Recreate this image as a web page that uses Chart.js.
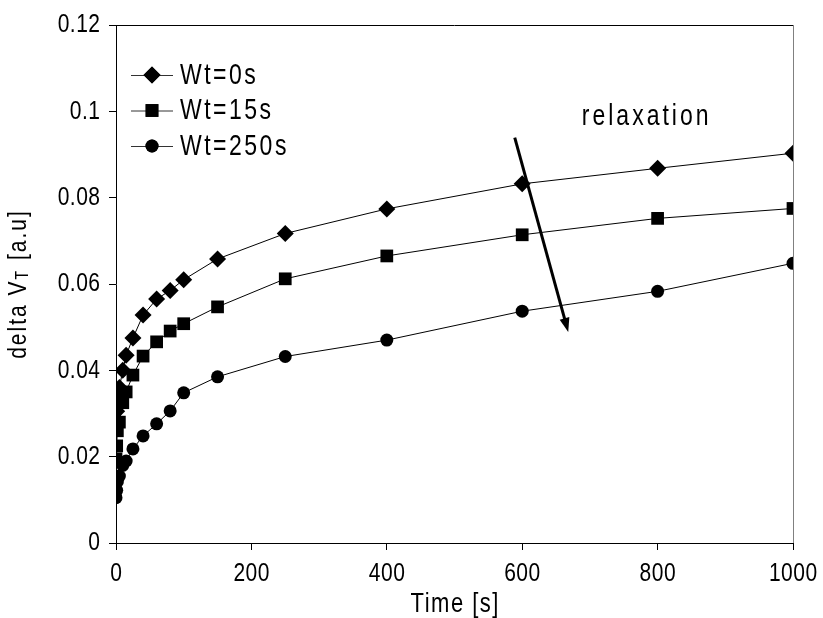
<!DOCTYPE html>
<html>
<head>
<meta charset="utf-8">
<script src="https://cdn.jsdelivr.net/npm/chart.js@4.4.1/dist/chart.umd.min.js"></script>
<style>
  html, body { margin: 0; padding: 0; background: #fff; }
  #wrap { width: 823px; height: 618px; position: relative; }
</style>
</head>
<body>
<div id="wrap"><canvas id="relaxChart" width="823" height="618"></canvas></div>
<script>
const times = [0, 1, 2, 5, 10, 15, 25, 40, 60, 80, 100, 150, 250, 400, 600, 800, 1000];
const wt0 = [0.0275, 0.0305, 0.033, 0.036, 0.040, 0.0435, 0.0475, 0.0528, 0.0565, 0.0585, 0.061, 0.0658, 0.0717, 0.0774, 0.0832, 0.0868, 0.0903];
const wt15 = [0.0195, 0.0225, 0.026, 0.028, 0.0325, 0.035, 0.0389, 0.0433, 0.0466, 0.0491, 0.0508, 0.0547, 0.0612, 0.0665, 0.0714, 0.0752, 0.0775];
const wt250 = [0.0105, 0.0122, 0.0142, 0.0155, 0.018, 0.019, 0.0218, 0.0248, 0.0276, 0.0306, 0.0348, 0.0385, 0.0432, 0.047, 0.0537, 0.0583, 0.0648];
const seriesNames = ['Wt=0s', 'Wt=15s', 'Wt=250s'];
const xTicks = [0, 200, 400, 600, 800, 1000];
const yTicks = [0, 0.02, 0.04, 0.06, 0.08, 0.1, 0.12];

const FONT = '"Liberation Sans", Arial, sans-serif';
const STRETCH = 1.25; // the original text is taller than it is wide

function toPoints(ys) {
    return times.map((t, i) => ({ x: t, y: ys[i] }));
}

function makeSet(label, ys, style, radius) {
    return {
        label: label,
        data: toPoints(ys),
        showLine: true,
        borderColor: '#000',
        borderWidth: 1,
        backgroundColor: '#000',
        pointStyle: style,
        pointRadius: radius,
        pointBorderWidth: 0,
        pointBackgroundColor: '#000',
        tension: 0
    };
}

// text helper: tall narrow glyphs, a bit of letter spacing
function label(c, txt, x, y, size, align, spacing) {
    c.save();
    c.translate(x, y);
    c.scale(1, STRETCH);
    c.font = size + 'px ' + FONT;
    c.letterSpacing = (spacing || 0) + 'px';
    c.textAlign = align;
    c.textBaseline = 'middle';
    c.fillStyle = '#000';
    let dx = 0;
    if (spacing && align === 'center') dx = spacing / 2;
    if (spacing && align === 'right') dx = spacing;
    c.fillText(txt, dx, 0);
    c.restore();
}

// frame, tick labels, legend, annotation and titles drawn by hand
const extras = {
    id: 'extras',
    afterDraw(chart) {
        const c = chart.ctx;
        const a = chart.chartArea;
        const xs = chart.scales.x, ys = chart.scales.y;
        c.save();

        // top + right border of plot area
        c.lineWidth = 1;
        c.strokeStyle = '#000';
        c.beginPath();
        c.moveTo(a.left, a.top + 0.5);
        c.lineTo(a.right, a.top + 0.5);
        c.stroke();
        c.strokeStyle = '#808080';
        c.beginPath();
        c.moveTo(a.right + 0.5, a.top);
        c.lineTo(a.right + 0.5, a.bottom);
        c.stroke();

        // tick labels
        yTicks.forEach(v => label(c, String(v), 100, ys.getPixelForValue(v), 21, 'right', 0.5));
        xTicks.forEach(v => label(c, String(v), xs.getPixelForValue(v), 574, 21, 'center', 0.5));

        // axis titles
        label(c, 'Time [s]', (a.left + a.right) / 2, 604, 22, 'center', 1.5);

        // legend
        const rows = [75, 110.5, 146];
        chart.data.datasets.forEach((ds, i) => {
            const y = rows[i];
            c.strokeStyle = '#333';
            c.lineWidth = 1;
            c.beginPath();
            c.moveTo(131, y + 0.5);
            c.lineTo(173, y + 0.5);
            c.stroke();
            Chart.helpers.drawPoint(c, { pointStyle: ds.pointStyle, radius: ds.pointRadius, borderWidth: 0 }, 152, y);
            c.fillStyle = '#000';
            c.fill();
            label(c, ds.label, 180, y + 1, 23, 'left', 2.5);
        });

        // relaxation arrow
        const x1 = xs.getPixelForValue(589), y1 = ys.getPixelForValue(0.0939);
        const x2 = xs.getPixelForValue(668), y2 = ys.getPixelForValue(0.0489);
        const ang = Math.atan2(y2 - y1, x2 - x1);
        const head = 14;
        c.strokeStyle = '#000';
        c.fillStyle = '#000';
        c.lineWidth = 3;
        c.beginPath();
        c.moveTo(x1, y1);
        c.lineTo(x2 - Math.cos(ang) * head * 0.8, y2 - Math.sin(ang) * head * 0.8);
        c.stroke();
        c.beginPath();
        c.moveTo(x2, y2);
        c.lineTo(x2 - head * Math.cos(ang) + 5 * Math.sin(ang), y2 - head * Math.sin(ang) - 5 * Math.cos(ang));
        c.lineTo(x2 - head * Math.cos(ang) - 5 * Math.sin(ang), y2 - head * Math.sin(ang) + 5 * Math.cos(ang));
        c.closePath();
        c.fill();

        label(c, 'relaxation', xs.getPixelForValue(688), ys.getPixelForValue(0.0987), 23, 'left', 3);

        // y axis title with subscript T
        c.translate(19, (a.top + a.bottom) / 2);
        c.rotate(-Math.PI / 2);
        c.scale(1, STRETCH);
        c.letterSpacing = '2px';
        const main1 = 'delta V', sub = 'T', main2 = ' [a.u]';
        c.font = '21px ' + FONT;
        const w1 = c.measureText(main1).width;
        const w3 = c.measureText(main2).width;
        c.font = '14px ' + FONT;
        const w2 = c.measureText(sub).width + 1;
        const x = -(w1 + w2 + w3) / 2;
        c.textAlign = 'left';
        c.textBaseline = 'middle';
        c.fillStyle = '#000';
        c.font = '21px ' + FONT;
        c.fillText(main1, x, 0);
        c.font = '14px ' + FONT;
        c.fillText(sub, x + w1, 3);
        c.font = '21px ' + FONT;
        c.fillText(main2, x + w1 + w2, 0);
        c.restore();
    }
};

const ctx = document.getElementById('relaxChart').getContext('2d');
const relaxChart = new Chart(ctx, {
    type: 'scatter',
    data: {
        datasets: [
            makeSet(seriesNames[0], wt0, 'rectRot', 8.5),
            makeSet(seriesNames[1], wt15, 'rect', 9),
            makeSet(seriesNames[2], wt250, 'circle', 6.5)
        ]
    },
    options: {
        responsive: false,
        animation: false,
        layout: { padding: { top: 25, right: 30, left: 0, bottom: 0 } },
        plugins: {
            legend: { display: false },
            tooltip: { enabled: false }
        },
        scales: {
            x: {
                type: 'linear',
                min: 0,
                max: 1000,
                afterBuildTicks: (s) => { s.ticks = xTicks.map(v => ({ value: v })); },
                afterFit: (s) => { s.height = 75; },
                grid: { display: true, drawOnChartArea: false, drawTicks: true, tickLength: 7, color: '#000' },
                border: { display: true, color: '#000', width: 1 },
                ticks: { display: false }
            },
            y: {
                type: 'linear',
                min: 0,
                max: 0.12,
                afterBuildTicks: (s) => { s.ticks = yTicks.map(v => ({ value: v })); },
                afterFit: (s) => { s.width = 116; },
                grid: { display: true, drawOnChartArea: false, drawTicks: true, tickLength: 7, color: '#000' },
                border: { display: true, color: '#000', width: 1 },
                ticks: { display: false }
            }
        }
    },
    plugins: [extras]
});
</script>
</body>
</html>
